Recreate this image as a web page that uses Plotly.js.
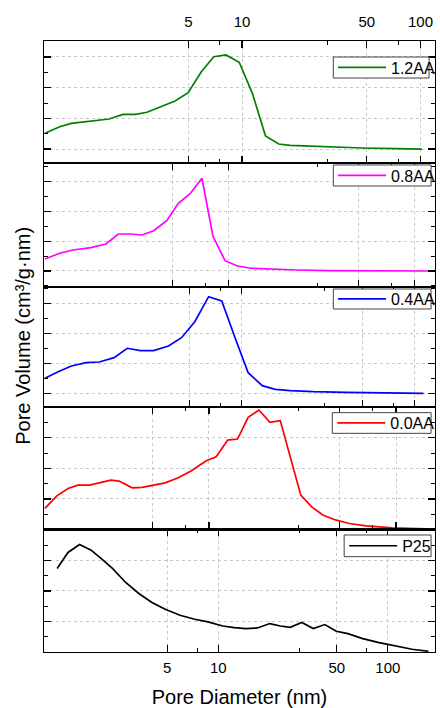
<!DOCTYPE html>
<html>
<head>
<meta charset="utf-8">
<script src="https://cdn.plot.ly/plotly-3.0.1.min.js"></script>
<style>html,body{margin:0;padding:0;background:#fff;}#chart{width:440px;height:708px;}</style>
</head>
<body>
<div id="chart"></div>
<script>
// ---- data (pore diameter in nm, pore volume in grid units) ----
const names = ['1.2AA', '0.8AA', '0.4AA', '0.0AA', 'P25'];
const colors = ['#008000', '#ff00ff', '#0000ff', '#ff0000', '#000000'];

const dia12AA = [0.786,0.951,1.104,1.337,1.550,1.799,2.150,2.528,2.932,3.549,4.210,4.986,5.908,6.945,8.124,9.638,11.42,13.53,16.05,18.60,23.01,30.97,47.38,72.44,101.8];
const vol12AA = [0.512,0.727,0.838,0.890,0.923,0.978,1.131,1.131,1.197,1.379,1.565,1.836,2.520,3.009,3.065,2.827,1.816,0.424,0.163,0.121,0.098,0.065,0.033,0.010,0.000];

const dia08AA = [1.037,1.245,1.466,1.834,2.203,2.570,2.990,3.445,3.974,4.674,5.392,6.219,7.228,8.266,9.605,11.22,13.20,16.85,23.33,35.04,52.68,121.3];
const vol08AA = [0.403,0.594,0.705,0.782,0.906,1.242,1.242,1.208,1.352,1.688,2.272,2.584,3.111,1.174,0.346,0.168,0.091,0.057,0.034,0.010,0,0];

const dia04AA = [0.726,0.865,1.032,1.257,1.497,1.824,2.174,2.593,3.088,3.762,4.481,5.346,6.427,7.656,9.241,10.88,13.13,15.64,19.05,25.93,40.18,62.29,112.6];
const vol04AA = [0.50,0.72,0.91,1.02,1.043,1.187,1.50,1.42,1.42,1.577,1.853,2.387,3.22,3.077,1.777,0.687,0.253,0.133,0.087,0.053,0.033,0.01,0];

const dia00AA = [1.330,1.534,1.766,1.994,2.299,2.596,2.992,3.311,3.890,4.392,5.065,5.838,6.861,8.064,9.678,10.93,12.60,14.22,16.20,18.51,21.17,24.07,30.96,35.39,40.79,47.93,56.35,69.05,95.48,126.7,160.0];
const vol00AA = [0.689,1.092,1.344,1.452,1.452,1.528,1.616,1.584,1.364,1.377,1.443,1.528,1.692,1.921,2.249,2.380,2.928,2.961,3.672,3.911,3.508,3.561,1.125,0.741,0.469,0.305,0.197,0.118,0.052,0.020,0.010];

const diaP25 = [1.121,1.299,1.519,1.778,2.033,2.375,2.843,3.398,4.061,4.861,5.943,7.268,8.685,10.62,12.43,14.52,16.99,20.14,23.21,26.55,31.05,36.34,42.45,49.66,58.09,71.04,88.77,111.0,138.9,173.5];
const volP25 = [2.734,3.259,3.521,3.334,3.062,2.734,2.275,1.915,1.620,1.400,1.203,1.072,0.984,0.852,0.800,0.767,0.787,0.931,0.852,0.810,0.964,0.767,0.898,0.679,0.603,0.439,0.308,0.197,0.089,0.023];

const majorTicks = [5, 10, 50, 100];
const minorTicks = [7.5, 30, 75];

const xTitle = 'Pore Diameter (nm)';
const yTitle = 'Pore Volume (cm³/g·nm)';

// ---- layout helpers ----
const diaSets = [dia12AA, dia08AA, dia04AA, dia00AA, diaP25];
const volSets = [vol12AA, vol08AA, vol04AA, vol00AA, volP25];

const FONT = 'Arial, "Liberation Sans", sans-serif';
const xRanges = [[-0.110, 2.081], [0.0106, 2.110], [-0.1446, 2.118], [0.1187, 2.208], [-0.028, 2.278]];
const yRanges = [[-0.456, 3.521], [-0.537, 3.624], [-0.457, 3.543], [0, 4.01], [0, 4.01]];
const yDomains = [[0.8003, 1], [0.5974, 0.8003], [0.4010, 0.5974], [0.2005, 0.4010], [0, 0.2005]];
// legend frames in paper coords: [x0, x1, y0, y1]
const legendBoxes = [
  [0.7399, 0.9848, 0.9394, 0.9738],
  [0.7399, 0.9899, 0.7627, 0.7971],
  [0.7399, 0.9899, 0.5614, 0.5941],
  [0.7374, 0.9899, 0.3579, 0.3917],
  [0.7677, 0.9899, 0.1560, 0.1915]
];

const traces = [];
const layout = {
  width: 440, height: 708,
  margin: {l: 44, r: 0, t: 41, b: 56, pad: 0},
  paper_bgcolor: '#ffffff', plot_bgcolor: '#ffffff',
  font: {family: FONT, color: '#000'},
  showlegend: true,
  shapes: [],
  annotations: [{
    text: yTitle, xref: 'paper', yref: 'paper', x: -0.0556, y: 0.518,
    xanchor: 'center', yanchor: 'middle', textangle: -90, showarrow: false,
    font: {family: FONT, size: 20, color: '#000'}
  }]
};

for (let i = 0; i < 5; i++) {
  const sfx = i === 0 ? '' : String(i + 1);
  const legName = 'legend' + sfx;
  traces.push({
    x: diaSets[i], y: volSets[i], type: 'scatter', mode: 'lines',
    name: names[i], xaxis: 'x' + sfx, yaxis: 'y' + sfx, legend: legName,
    line: {color: colors[i], width: 1.7}
  });
  const xa = {
    type: 'log', range: xRanges[i], anchor: 'y' + sfx,
    showline: true, linecolor: '#000', linewidth: 1.3, mirror: 'ticks',
    ticks: 'inside', ticklen: 7, tickwidth: 1.2, tickcolor: '#000',
    tickmode: 'array', tickvals: majorTicks,
    showgrid: true, gridcolor: '#c8c8c8', griddash: 'dot', gridwidth: 1,
    zeroline: false,
    showticklabels: (i === 0 || i === 4),
    side: i === 0 ? 'top' : 'bottom',
    ticklabelstandoff: i === 0 ? 7 : 2,
    tickfont: {family: FONT, size: 15, color: '#000'},
    minor: {tickmode: 'array', tickvals: minorTicks, ticks: 'inside', ticklen: 4, tickwidth: 1, tickcolor: '#000', showgrid: false}
  };
  if (i === 4) {
    xa.title = {text: xTitle, font: {family: FONT, size: 20, color: '#000'}, standoff: 17};
  }
  layout['xaxis' + sfx] = xa;
  layout['yaxis' + sfx] = {
    range: yRanges[i], domain: yDomains[i], anchor: 'x' + sfx,
    showline: true, linecolor: '#000', linewidth: 1.3, mirror: 'ticks',
    ticks: 'inside', ticklen: 7, tickwidth: 1.2, tickcolor: '#000',
    tick0: 0, dtick: 1, showticklabels: false,
    showgrid: true, gridcolor: '#c8c8c8', griddash: 'dot', gridwidth: 1,
    zeroline: false,
    minor: {dtick: 0.5, tick0: 0, ticks: 'inside', ticklen: 4, tickwidth: 1, tickcolor: '#000', showgrid: false}
  };
  const b = legendBoxes[i];
  layout.shapes.push({
    type: 'rect', xref: 'paper', yref: 'paper', x0: b[0], x1: b[1], y0: b[2], y1: b[3],
    line: {color: '#444', width: 1}, fillcolor: '#ffffff', layer: 'above'
  });
  layout[legName] = {
    x: b[0], xanchor: 'left', y: (b[2] + b[3]) / 2, yanchor: 'middle',
    borderwidth: 0, bgcolor: 'rgba(0,0,0,0)',
    font: {family: FONT, size: 16, color: '#000'},
    tracegroupgap: 0, itemclick: false, itemwidth: 48
  };
}

Plotly.newPlot('chart', traces, layout, {displayModeBar: false, staticPlot: true});
</script>
</body>
</html>
